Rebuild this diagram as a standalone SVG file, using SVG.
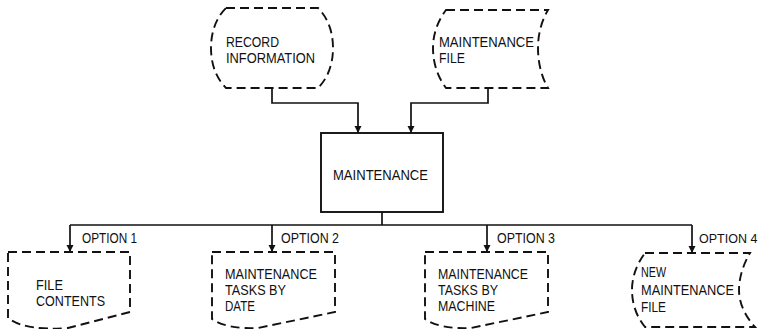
<svg xmlns="http://www.w3.org/2000/svg" width="759" height="329" viewBox="0 0 759 329">
<style>
.bg{fill:#fff}
.dash{fill:#fff;stroke:#111;stroke-width:1.9;stroke-dasharray:9 5}
.box{fill:#fff;stroke:#111;stroke-width:1.9}
.ln{fill:none;stroke:#111;stroke-width:1.7}
text{font-family:"Liberation Sans",Arial,sans-serif;font-size:15px;fill:#111}
.opt4{font-size:12.5px}
</style>
<defs>
<marker id="ah" viewBox="0 0 10 10" refX="10" refY="5" markerWidth="7" markerHeight="11" markerUnits="userSpaceOnUse" orient="auto">
<path d="M0,0 L10,5 L0,10 Z" fill="#111"/>
</marker>
</defs>
<rect class="bg" x="0" y="0" width="759" height="329"/>

<g id="connectors">
<path class="ln" d="M272,88 V103 H358 V133" marker-end="url(#ah)"/>
<path class="ln" d="M488,88 V103 H411 V133" marker-end="url(#ah)"/>
<path class="ln" d="M382,212 V225"/>
<path class="ln" d="M70,225 H692"/>
<path class="ln" d="M70,225 V252" marker-end="url(#ah)"/>
<path class="ln" d="M272,225 V252" marker-end="url(#ah)"/>
<path class="ln" d="M487,225 V252" marker-end="url(#ah)"/>
<path class="ln" d="M692,225 V253" marker-end="url(#ah)"/>
<text x="82" y="243" textLength="55" lengthAdjust="spacingAndGlyphs">OPTION 1</text>
<text x="281" y="243" textLength="58" lengthAdjust="spacingAndGlyphs">OPTION 2</text>
<text x="497" y="243" textLength="58" lengthAdjust="spacingAndGlyphs">OPTION 3</text>
<text class="opt4" x="699" y="243">OPTION 4</text>
</g>

<g id="record-information">
<path class="dash" d="M226,8 H318 C328,18 333,32 333,48 C333,64 328,78 318,88 H226 C216,78 211,64 211,48 C211,32 216,18 226,8 Z"/>
<text x="226" y="47" textLength="53" lengthAdjust="spacingAndGlyphs">RECORD</text>
<text x="226" y="63" textLength="89" lengthAdjust="spacingAndGlyphs">INFORMATION</text>
</g>

<g id="maintenance-file">
<path class="dash" d="M446,10 H548 C541,22 538,35 538,48 C538,62 541,76 548,88 H446 C437,76 433,62 433,48 C433,35 437,22 446,10 Z"/>
<text x="439" y="47" textLength="95" lengthAdjust="spacingAndGlyphs">MAINTENANCE</text>
<text x="439" y="63" textLength="26" lengthAdjust="spacingAndGlyphs">FILE</text>
</g>

<g id="maintenance">
<rect class="box" x="321" y="133" width="122" height="79"/>
<text x="333" y="180" textLength="95" lengthAdjust="spacingAndGlyphs">MAINTENANCE</text>
</g>

<g id="file-contents">
<path class="dash" d="M8,252 H130 V312 L68,328 C40,330 20,327 8,318 Z"/>
<text x="36" y="290" textLength="27" lengthAdjust="spacingAndGlyphs">FILE</text>
<text x="36" y="306" textLength="69" lengthAdjust="spacingAndGlyphs">CONTENTS</text>
</g>

<g id="tasks-by-date">
<path class="dash" d="M212,252 H335 V312 L258,328 C238,329 222,326 212,319 Z"/>
<text x="225" y="279" textLength="92" lengthAdjust="spacingAndGlyphs">MAINTENANCE</text>
<text x="225" y="295" textLength="61" lengthAdjust="spacingAndGlyphs">TASKS BY</text>
<text x="225" y="311" textLength="30" lengthAdjust="spacingAndGlyphs">DATE</text>
</g>

<g id="tasks-by-machine">
<path class="dash" d="M425,252 H548 V312 L471,328 C451,329 435,326 425,319 Z"/>
<text x="438" y="279" textLength="90" lengthAdjust="spacingAndGlyphs">MAINTENANCE</text>
<text x="438" y="295" textLength="60" lengthAdjust="spacingAndGlyphs">TASKS BY</text>
<text x="438" y="311" textLength="57" lengthAdjust="spacingAndGlyphs">MACHINE</text>
</g>

<g id="new-maintenance-file">
<path class="dash" d="M645,253 H750 C743,265 739,278 739,290 C739,303 745,316 755,327 H645 C636,316 632,303 632,290 C632,278 636,265 645,253 Z"/>
<text x="641" y="277" textLength="25" lengthAdjust="spacingAndGlyphs">NEW</text>
<text x="641" y="295" textLength="93" lengthAdjust="spacingAndGlyphs">MAINTENANCE</text>
<text x="641" y="312" textLength="25" lengthAdjust="spacingAndGlyphs">FILE</text>
</g>
</svg>
